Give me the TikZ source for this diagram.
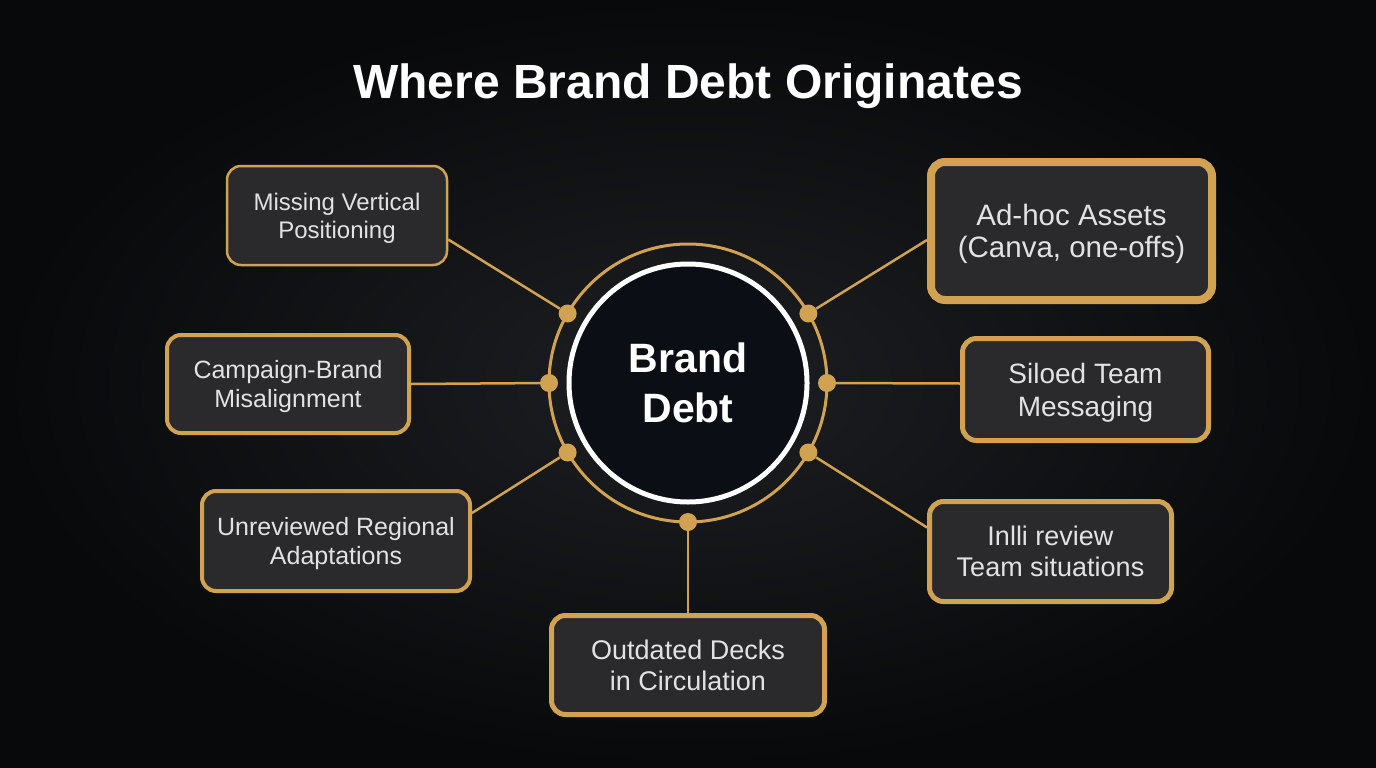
\documentclass[tikz,border=0pt]{standalone}
\usepackage{fontspec}
\setmainfont{Liberation Sans}
\usetikzlibrary{calc}
\definecolor{gold}{RGB}{208,162,82}
\definecolor{boxfill}{RGB}{42,42,44}
\definecolor{bgdark}{RGB}{8,9,11}
\definecolor{bglight}{RGB}{30,31,34}
\definecolor{core}{RGB}{12,14,21}
\definecolor{txt}{RGB}{226,226,226}
\pgfdeclarelayer{bg}
\pgfdeclarelayer{links}
\pgfsetlayers{bg,links,main}

\begin{document}
\begin{tikzpicture}[x=1pt,y=-1pt,
  cause/.style={draw=gold, fill=boxfill, rounded corners=14pt, align=center, text=txt, inner sep=0pt, text depth=0pt},
  link/.style={draw=gold, line width=2.5pt},
  dot/.style={circle, fill=gold, minimum size=18pt, inner sep=0pt}]
  \useasboundingbox (0,0) rectangle (1376,768);
  \begin{pgfonlayer}{bg}
    \shade[inner color=bglight, outer color=bgdark] (0,0) rectangle (1376,768);
  \end{pgfonlayer}

  \node[anchor=base, text=white, font=\bfseries\fontsize{48}{56}\selectfont] (title) at (688,98) {Where Brand Debt Originates};

  \draw[gold, line width=3pt] (688,383) circle[radius=139pt];
  \node[circle, draw=white, line width=5pt, fill=core, minimum size=238pt, align=center, text=white,
    font=\bfseries\fontsize{41}{50}\selectfont] (bd) at (688,383) {Brand\\Debt};
  \foreach \ang/\nm in {150/dul,180/dl,210/dll,270/db,330/dlr,0/dr,30/dur}
    \node[dot] (\nm) at ($(bd.center)+(\ang:139pt)$) {};

  \node[cause, line width=2.5pt, minimum width=220pt, minimum height=99pt, font=\fontsize{24}{28}\selectfont] (miss) at (337,215.5) {Missing Vertical\\Positioning};
  \node[cause, line width=4pt, minimum width=242pt, minimum height=98pt, font=\fontsize{25}{29}\selectfont] (camp) at (288,384) {Campaign-Brand\\Misalignment};
  \node[cause, line width=4pt, minimum width=268pt, minimum height=100pt, font=\fontsize{25}{29}\selectfont] (unrev) at (336,541) {Unreviewed Regional\\Adaptations};
  \node[cause, line width=5pt, minimum width=273pt, minimum height=99pt, font=\fontsize{27}{31}\selectfont] (outd) at (688,665) {Outdated Decks\\in Circulation};
  \node[cause, line width=5pt, minimum width=242pt, minimum height=100pt, font=\fontsize{27}{31}\selectfont] (inl) at (1050.5,551.5) {Inlli review\\Team situations};
  \node[cause, line width=5pt, minimum width=246pt, minimum height=102pt, font=\fontsize{28}{33}\selectfont] (silo) at (1085.5,389.5) {Siloed Team\\Messaging};
  \node[cause, line width=8pt, minimum width=281pt, minimum height=138pt, font=\fontsize{29.5}{32}\selectfont] (adhoc) at (1071.5,231) {Ad-hoc Assets\\(Canva, one-offs)};

  \begin{pgfonlayer}{links}
    \draw[link] ($(miss.east)+(0,24)$) -- (dul);
    \draw[link] (camp.east) -- (dl);
    \draw[link] ($(unrev.east)+(0,-28)$) -- (dll);
    \draw[link] (outd.north) -- (db);
    \draw[link] ($(inl.west)+(0,-24)$) -- (dlr);
    \draw[link] ($(silo.west)+(0,-6)$) -- (dr);
    \draw[link] ($(adhoc.west)+(0,9)$) -- (dur);
  \end{pgfonlayer}
\end{tikzpicture}
\end{document}
